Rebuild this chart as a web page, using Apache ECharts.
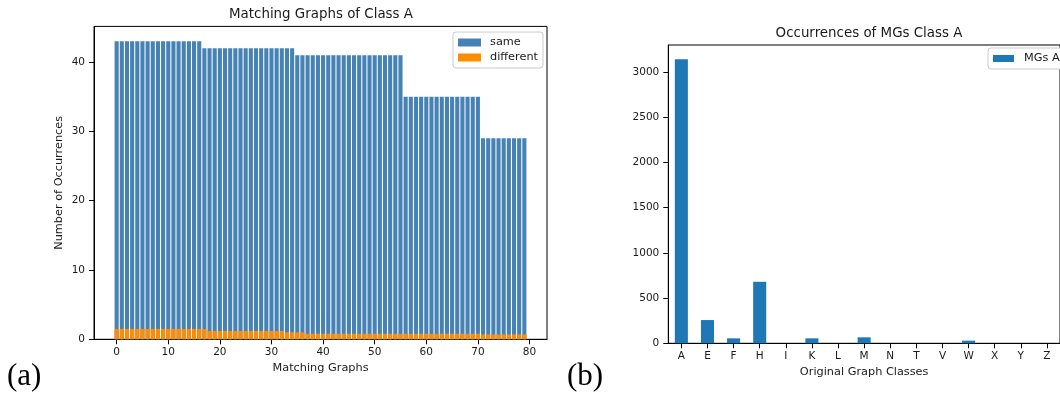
<!DOCTYPE html>
<html>
<head>
<meta charset="utf-8">
<script src="https://cdn.jsdelivr.net/npm/echarts@6/dist/echarts.min.js"></script>
<style>
  html, body { margin: 0; padding: 0; background: #fff; }
  #main { width: 1060px; height: 394px; }
</style>
</head>
<body>
<div id="main"></div>
<script>
// left panel: 80 matching graphs, "same" count and "different" count
var sameCounts = [
    43,43,43,43,43,43,43,43,43,43,43,43,43,43,43,43,43,
    42,42,42,42,42,42,42,42,42,42,42,42,42,42,42,42,42,42,
    41,41,41,41,41,41,41,41,41,41,41,41,41,41,41,41,41,41,41,41,41,
    35,35,35,35,35,35,35,35,35,35,35,35,35,35,35,
    29,29,29,29,29,29,29,29,29
];
var diffCounts = [
    1.5,1.5,1.5,1.5,1.5,1.5,1.5,1.5,1.5,1.5,1.5,1.5,1.5,1.5,1.5,1.5,1.5,1.5,
    1.2,1.2,1.2,1.2,1.2,1.2,1.2,1.2,1.2,1.2,1.2,1.2,1.2,1.2,1.2,
    1.0,1.0,1.0,1.0,
    0.8,0.8,0.8,0.8,0.8,0.8,0.8,0.8,0.8,0.8,0.8,0.8,0.8,0.8,0.8,0.8,0.8,
    0.8,0.8,0.8,0.8,0.8,0.8,0.8,0.8,0.8,0.8,0.8,0.8,0.8,0.8,0.8,0.8,0.8,
    0.7,0.7,0.7,0.7,0.7,0.7,0.7,0.7,0.7
];
var leftXTicks = [0, 10, 20, 30, 40, 50, 60, 70, 80];
var leftYTicks = [0, 10, 20, 30, 40];

// right panel: occurrences per original graph class
var classes = ['A','E','F','H','I','K','L','M','N','T','V','W','X','Y','Z'];
var mgsA = [3141, 257, 55, 680, 0, 55, 0, 66, 0, 0, 0, 29, 0, 0, 0];
var rightYTicks = [0, 500, 1000, 1500, 2000, 2500, 3000];

var FONT = 'DejaVu Sans';
var TXT = '#1a1a1a';

function pairs(vals) {
    return vals.map(function (v, i) { return [i, v]; });
}

var myChart = echarts.init(document.getElementById('main'), null, {renderer: 'canvas'});

function axisCommon() {
    return {
        axisLine: {show: true, onZero: false, lineStyle: {color: '#000', width: 1}},
        axisTick: {show: true, length: 5, lineStyle: {color: '#000'}},
        axisLabel: {
            color: TXT, fontFamily: FONT, fontSize: 10.5, margin: 7,
            formatter: function (v) { return String(v); }
        },
        splitLine: {show: false},
        nameTextStyle: {color: TXT, fontFamily: FONT, fontSize: 11.3}
    };
}

var lx = axisCommon();
lx.gridIndex = 0; lx.type = 'value'; lx.min = -4.39; lx.max = 83.39;
lx.axisTick.customValues = leftXTicks;
lx.axisLabel.customValues = leftXTicks;
lx.name = 'Matching Graphs'; lx.nameLocation = 'middle'; lx.nameGap = 22;

var ly = axisCommon();
ly.gridIndex = 0; ly.type = 'value'; ly.min = 0; ly.max = 45.15;
ly.axisTick.customValues = leftYTicks;
ly.axisLabel.customValues = leftYTicks;
ly.axisLabel.margin = 9;
ly.name = 'Number of Occurrences'; ly.nameLocation = 'middle'; ly.nameGap = 29;

var rx = axisCommon();
rx.gridIndex = 1; rx.type = 'category'; rx.data = classes; rx.boundaryGap = true;
delete rx.axisLabel.formatter;
rx.axisTick.alignWithLabel = true;
rx.axisTick.interval = 0; rx.axisLabel.interval = 0;
rx.name = 'Original Graph Classes'; rx.nameLocation = 'middle'; rx.nameGap = 22;

var ry = axisCommon();
ry.gridIndex = 1; ry.type = 'value'; ry.min = 0; ry.max = 3298;
ry.axisTick.customValues = rightYTicks;
ry.axisLabel.customValues = rightYTicks;
ry.axisLabel.margin = 9;

var option = {
    backgroundColor: '#fff',
    animation: false,
    title: [
        {
            text: 'Matching Graphs of Class A',
            left: 321, top: 8, textAlign: 'center', padding: 0,
            textStyle: {color: TXT, fontFamily: FONT, fontSize: 13.4, fontWeight: 'normal'}
        },
        {
            text: 'Occurrences of MGs Class A',
            left: 869, top: 27, textAlign: 'center', padding: 0,
            textStyle: {color: TXT, fontFamily: FONT, fontSize: 13.4, fontWeight: 'normal'}
        }
    ],
    legend: [
        {
            data: ['same', 'different'],
            orient: 'vertical',
            left: 453, top: 32,
            padding: [5, 5, 5, 5],
            itemGap: 4,
            itemWidth: 23, itemHeight: 8,
            icon: 'rect',
            borderColor: '#ccc', borderWidth: 1, borderRadius: 3,
            backgroundColor: '#fff',
            textStyle: {color: TXT, fontFamily: FONT, fontSize: 11.3, padding: [0, 0, 0, 4]}
        },
        {
            data: ['MGs A'],
            orient: 'vertical',
            left: 988, top: 48,
            padding: [5, 6, 5, 5],
            itemWidth: 21, itemHeight: 7,
            icon: 'rect',
            borderColor: '#ccc', borderWidth: 1, borderRadius: 3,
            backgroundColor: '#fff',
            textStyle: {color: TXT, fontFamily: FONT, fontSize: 11.3, padding: [0, 0, 0, 5]}
        }
    ],
    grid: [
        {left: 94, right: 513, top: 26.4, bottom: 54.7, show: true, borderColor: '#000', borderWidth: 1, containLabel: false},
        {left: 668.3, right: -10, top: 45, bottom: 50.7, show: true, borderColor: '#000', borderWidth: 1, containLabel: false}
    ],
    xAxis: [lx, rx],
    yAxis: [ly, ry],
    series: [
        {
            name: 'same', type: 'bar',
            xAxisIndex: 0, yAxisIndex: 0,
            barWidth: 4.1, barGap: '-100%',
            itemStyle: {color: '#4682b4'},
            data: pairs(sameCounts)
        },
        {
            name: 'different', type: 'bar',
            xAxisIndex: 0, yAxisIndex: 0,
            barWidth: 4.1, barGap: '-100%',
            itemStyle: {color: '#ff8c00'},
            data: pairs(diffCounts)
        },
        {
            name: 'MGs A', type: 'bar',
            xAxisIndex: 1, yAxisIndex: 1,
            barWidth: '50%',
            itemStyle: {color: '#1f77b4'},
            data: mgsA
        }
    ],
    graphic: [
        {type: 'text', left: 7, top: 361, style: {text: '(a)', font: '31px "Liberation Serif"', fill: '#000'}},
        {type: 'text', left: 567, top: 361, style: {text: '(b)', font: '31px "Liberation Serif"', fill: '#000'}}
    ]
};
myChart.setOption(option);
</script>
</body>
</html>
